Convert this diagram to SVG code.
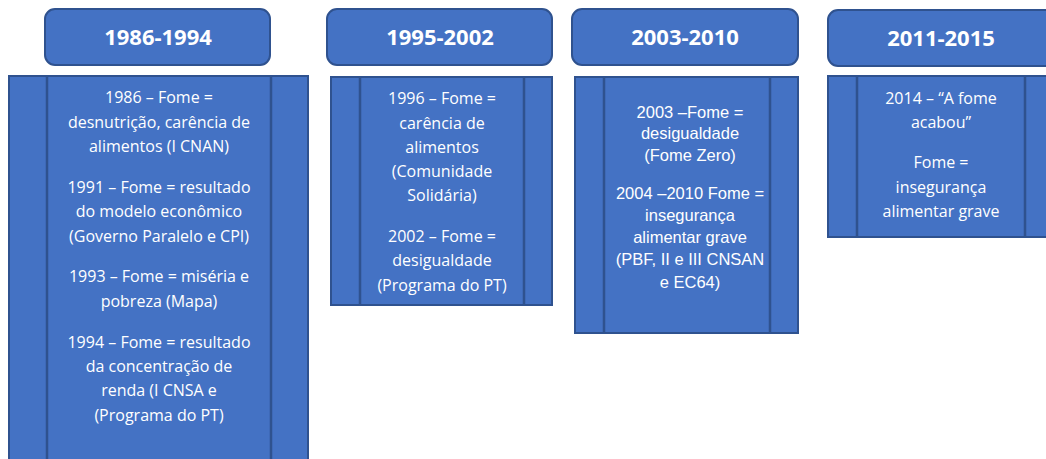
<svg xmlns="http://www.w3.org/2000/svg" width="1046" height="459" viewBox="0 0 1046 459">
<style>
.hdr{fill:#4472C4;stroke:#2F528F;stroke-width:2}
.box{fill:#4472C4;stroke:#2F528F;stroke-width:2}
.bar{stroke:#2F528F;stroke-width:2.5;fill:none}
.ht{font-family:"Open Sans","Liberation Sans",sans-serif;font-weight:bold;font-size:22px;fill:#fff;text-anchor:middle}
.bt{font-family:"Open Sans","Liberation Sans",sans-serif;font-size:16px;fill:#fff;text-anchor:middle}
.at{font-family:"Liberation Sans",Arial,sans-serif;font-size:16.5px;fill:#fff;text-anchor:middle}
</style>
<rect width="1046" height="459" fill="#fff"/>
<g id="connectors"></g>
<g id="period1">
<rect class="hdr" x="45" y="9" width="225" height="56" rx="10"/>
<text class="ht" x="158" y="45">1986-1994</text>
<rect class="box" x="9" y="76" width="299" height="400"/>
<line class="bar" x1="47" y1="76" x2="47" y2="476"/>
<line class="bar" x1="271" y1="76" x2="271" y2="476"/>
<text class="bt" x="159" y="103">1986 – Fome =</text>
<text class="bt" x="159" y="128">desnutrição, carência de</text>
<text class="bt" x="159" y="152">alimentos (I CNAN)</text>
<text class="bt" x="159" y="193">1991 – Fome = resultado</text>
<text class="bt" x="159" y="217">do modelo econômico</text>
<text class="bt" x="159" y="242">(Governo Paralelo e CPI)</text>
<text class="bt" x="159" y="282">1993 – Fome = miséria e</text>
<text class="bt" x="159" y="307">pobreza (Mapa)</text>
<text class="bt" x="159" y="348">1994 – Fome = resultado</text>
<text class="bt" x="159" y="372">da concentração de</text>
<text class="bt" x="159" y="396">renda (I CNSA e</text>
<text class="bt" x="159" y="421">(Programa do PT)</text>
</g>
<g id="period2">
<rect class="hdr" x="327" y="9" width="225" height="56" rx="10"/>
<text class="ht" x="440" y="45">1995-2002</text>
<rect class="box" x="331" y="77" width="221" height="228"/>
<line class="bar" x1="360" y1="77" x2="360" y2="305"/>
<line class="bar" x1="524" y1="77" x2="524" y2="305"/>
<text class="bt" x="442" y="104">1996 – Fome =</text>
<text class="bt" x="442" y="129">carência de</text>
<text class="bt" x="442" y="153">alimentos</text>
<text class="bt" x="442" y="177">(Comunidade</text>
<text class="bt" x="442" y="201">Solidária)</text>
<text class="bt" x="442" y="242">2002 – Fome =</text>
<text class="bt" x="442" y="266">desigualdade</text>
<text class="bt" x="442" y="291">(Programa do PT)</text>
</g>
<g id="period3">
<rect class="hdr" x="572" y="9" width="226" height="56" rx="10"/>
<text class="ht" x="685" y="45">2003-2010</text>
<rect class="box" x="575" y="77" width="223" height="256"/>
<line class="bar" x1="604" y1="77" x2="604" y2="333"/>
<line class="bar" x1="770" y1="77" x2="770" y2="333"/>
<text class="at" x="690" y="118">2003 –Fome =</text>
<text class="at" x="690" y="139">desigualdade</text>
<text class="at" x="690" y="161">(Fome Zero)</text>
<text class="at" x="690" y="199">2004 –2010 Fome =</text>
<text class="at" x="690" y="221">insegurança</text>
<text class="at" x="690" y="243">alimentar grave</text>
<text class="at" x="690" y="265">(PBF, II e III CNSAN</text>
<text class="at" x="690" y="288">e EC64)</text>
</g>
<g id="period4">
<rect class="hdr" x="828" y="10" width="240" height="56" rx="10"/>
<text class="ht" x="941" y="46">2011-2015</text>
<rect class="box" x="828" y="76" width="240" height="161"/>
<line class="bar" x1="857" y1="76" x2="857" y2="237"/>
<line class="bar" x1="1025" y1="76" x2="1025" y2="237"/>
<text class="bt" x="941" y="104">2014 – “A fome</text>
<text class="bt" x="941" y="128">acabou”</text>
<text class="bt" x="941" y="168">Fome =</text>
<text class="bt" x="941" y="193">insegurança</text>
<text class="bt" x="941" y="217">alimentar grave</text>
</g>
</svg>
